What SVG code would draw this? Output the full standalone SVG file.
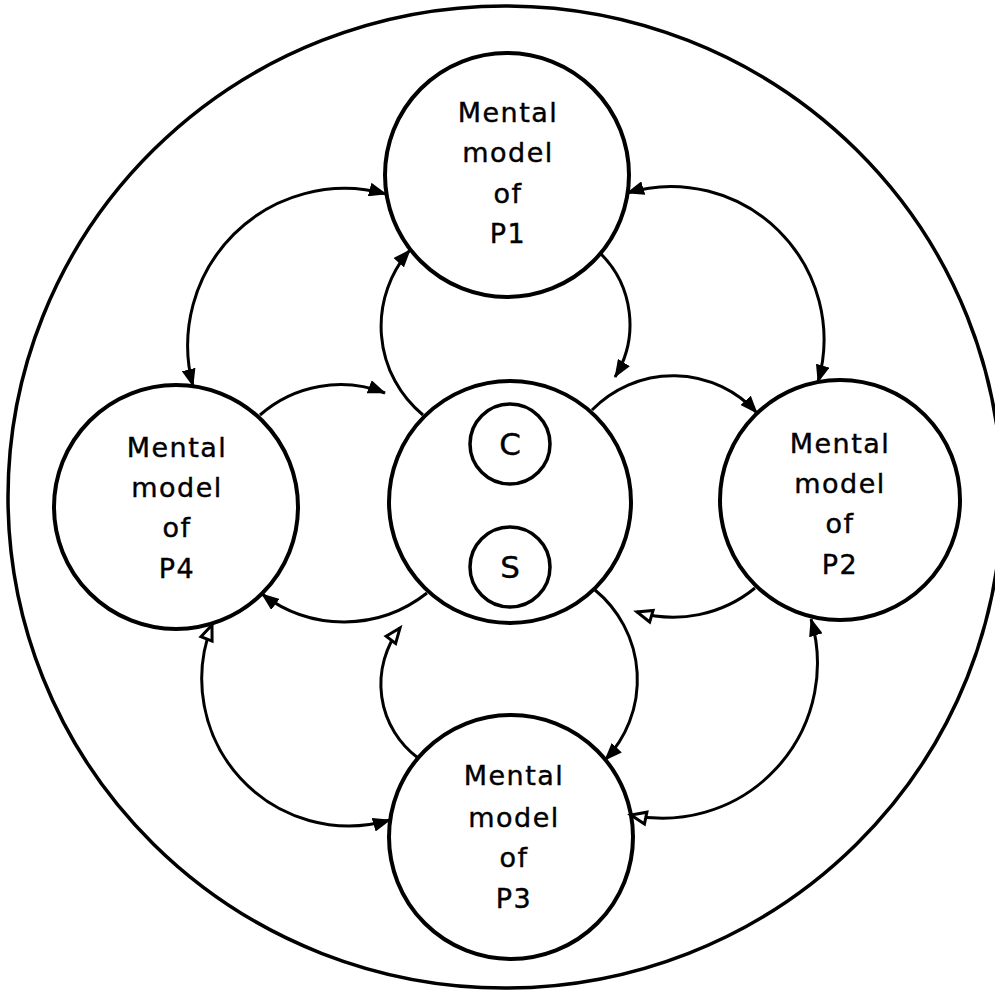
<svg xmlns="http://www.w3.org/2000/svg" width="995" height="994" viewBox="0 0 995 994">
<style>
.ring{fill:none;stroke:#000;stroke-width:3.5}
.node{fill:none;stroke:#000;stroke-width:4}
.small{fill:none;stroke:#000;stroke-width:3.5}
.lbl{font-family:"DejaVu Sans","Liberation Sans",sans-serif;font-size:27px;letter-spacing:1.5px;fill:#000;stroke:#000;stroke-width:0.4;text-anchor:middle}
.cs{font-family:"DejaVu Sans","Liberation Sans",sans-serif;font-size:31px;fill:#000;stroke:#000;stroke-width:0.4;text-anchor:middle}
.arc{fill:none;stroke:#000;stroke-width:3}
</style>
<defs>
<marker id="af" viewBox="0 0 18 14" refX="17" refY="7" markerWidth="18" markerHeight="14" markerUnits="userSpaceOnUse" orient="auto"><path d="M0,0 L18,7 L0,14 z" fill="#000"/></marker>
<marker id="afs" viewBox="0 0 18 14" refX="17" refY="7" markerWidth="18" markerHeight="14" markerUnits="userSpaceOnUse" orient="auto-start-reverse"><path d="M0,0 L18,7 L0,14 z" fill="#000"/></marker>
<marker id="ao" viewBox="-2 -2 22 18" refX="16" refY="7" markerWidth="22" markerHeight="18" markerUnits="userSpaceOnUse" orient="auto"><path d="M1,1 L16,7 L1,13 z" fill="#fff" stroke="#000" stroke-width="3"/></marker>
<marker id="aos" viewBox="-2 -2 22 18" refX="16" refY="7" markerWidth="22" markerHeight="18" markerUnits="userSpaceOnUse" orient="auto-start-reverse"><path d="M1,1 L16,7 L1,13 z" fill="#fff" stroke="#000" stroke-width="3"/></marker>
</defs>

<ellipse id="outer" class="ring" cx="505" cy="497" rx="497" ry="491"/>

<g id="connectors">
  <path class="arc" d="M193,386 A157,157 0 0 1 386,194" marker-start="url(#afs)" marker-end="url(#af)"/>
  <path class="arc" d="M627,193 A153,153 0 0 1 818,382" marker-start="url(#afs)" marker-end="url(#af)"/>
  <path class="arc" d="M600,253 A100,100 0 0 1 615,377" marker-end="url(#af)"/>
  <path class="arc" d="M423,415 A115,115 0 0 1 410,250" marker-end="url(#af)"/>
  <path class="arc" d="M260,415 A122,122 0 0 1 385,393" marker-end="url(#af)"/>
  <path class="arc" d="M592,410 A113,113 0 0 1 757,413" marker-end="url(#af)"/>
  <path class="arc" d="M755,588 A129,129 0 0 1 637,612" marker-end="url(#ao)"/>
  <path class="arc" d="M595,590 A116,116 0 0 1 605,760" marker-end="url(#af)"/>
  <path class="arc" d="M811,619 A155,155 0 0 1 631,815" marker-start="url(#afs)" marker-end="url(#ao)"/>
  <path class="arc" d="M418,758 A92,92 0 0 1 400,628" marker-end="url(#ao)"/>
  <path class="arc" d="M427,593 A134,134 0 0 1 262,594" marker-end="url(#af)"/>
  <path class="arc" d="M212,625 A147,147 0 0 0 390,820" marker-start="url(#aos)" marker-end="url(#af)"/>
</g>

<g id="P1">
  <circle class="node" cx="507" cy="175" r="122"/>
  <text class="lbl" x="508" y="122">Mental</text>
  <text class="lbl" x="508" y="162">model</text>
  <text class="lbl" x="508" y="203">of</text>
  <text class="lbl" x="508" y="243">P1</text>
</g>
<g id="P4">
  <circle class="node" cx="176" cy="507" r="122"/>
  <text class="lbl" x="177" y="457">Mental</text>
  <text class="lbl" x="177" y="497">model</text>
  <text class="lbl" x="177" y="537">of</text>
  <text class="lbl" x="177" y="578">P4</text>
</g>
<g id="P2">
  <circle class="node" cx="840" cy="500" r="120"/>
  <text class="lbl" x="840" y="453">Mental</text>
  <text class="lbl" x="840" y="493">model</text>
  <text class="lbl" x="840" y="533">of</text>
  <text class="lbl" x="840" y="574">P2</text>
</g>
<g id="P3">
  <circle class="node" cx="511" cy="837" r="122"/>
  <text class="lbl" x="514" y="785">Mental</text>
  <text class="lbl" x="514" y="827">model</text>
  <text class="lbl" x="514" y="867">of</text>
  <text class="lbl" x="514" y="908">P3</text>
</g>
<g id="center">
  <circle class="node" cx="510" cy="502" r="121"/>
  <g id="C">
    <circle class="small" cx="510" cy="444" r="40"/>
    <text class="cs" x="510" y="455">C</text>
  </g>
  <g id="S">
    <circle class="small" cx="510" cy="567" r="40"/>
    <text class="cs" x="510" y="578">S</text>
  </g>
</g>
</svg>
